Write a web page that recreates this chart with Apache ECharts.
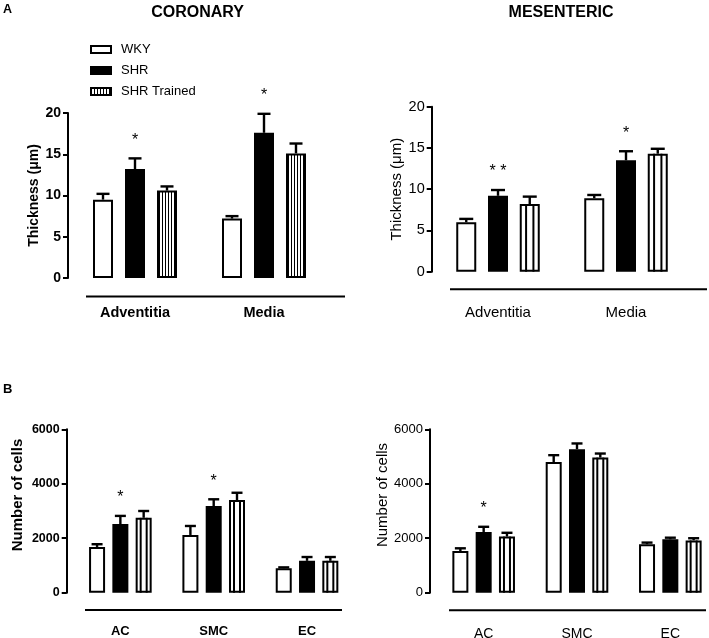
<!DOCTYPE html>
<html>
<head>
<meta charset="UTF-8">
<title>Coronary / Mesenteric</title>
<script src="https://cdn.jsdelivr.net/npm/echarts@6/dist/echarts.min.js"></script>
<style>
html, body { margin: 0; padding: 0; background: #fff; }
#main { width: 709px; height: 638px; }
</style>
</head>
<body>
<div id="main"></div>
<script type="text/javascript">
// categories and groups
var thickCats = ['Adventitia', 'Media'];
var cellCats = ['AC', 'SMC', 'EC'];
var groups = ['WKY', 'SHR', 'SHR Trained'];

// A - wall thickness (um): mean and SEM
var corThickWKY = [9.5, 7.2],   corThickWKYsem = [0.7, 0.3];
var corThickSHR = [13.2, 17.6], corThickSHRsem = [1.3, 2.3];
var corThickTr  = [10.6, 15.1], corThickTrsem  = [0.5, 1.2];
var corThickSig = ['*', '*'];

var mesThickWKY = [6.0, 8.9],   mesThickWKYsem = [0.4, 0.4];
var mesThickSHR = [9.2, 13.5],  mesThickSHRsem = [0.7, 1.1];
var mesThickTr  = [8.2, 14.3],  mesThickTrsem  = [0.9, 0.6];
var mesThickSig = ['* *', '*'];

// B - number of cells: mean and SEM
var corCellWKY = [1680, 2120, 900],  corCellWKYsem = [100, 330, 30];
var corCellSHR = [2520, 3180, 1170], corCellSHRsem = [300, 250, 140];
var corCellTr  = [2750, 3400, 1170], corCellTrsem  = [250, 270, 140];
var corCellSig = ['*', '*', ''];

var mesCellWKY = [1530, 4800, 1780], mesCellWKYsem = [100, 250, 60];
var mesCellSHR = [2230, 5270, 1960], mesCellSHRsem = [190, 210, 60];
var mesCellTr  = [2060, 4960, 1920], mesCellTrsem  = [140, 150, 80];
var mesCellSig = ['*', '', ''];

var FONT = '"Liberation Sans", Arial, sans-serif';

// dense vertical stripes for the coronary thickness "SHR Trained" bars and the legend
var pc = document.createElement('canvas');
pc.width = 3; pc.height = 6;
var pctx = pc.getContext('2d');
pctx.fillStyle = '#fff'; pctx.fillRect(0, 0, 3, 6);
pctx.fillStyle = '#000'; pctx.fillRect(0, 0, 1, 6);
var stripeFill = { image: pc, repeat: 'repeat' };

var panels = [
  { grid: { left: 70.5, top: 113, width: 258, height: 165 }, cats: thickCats, max: 20, interval: 5,
    means: [corThickWKY, corThickSHR, corThickTr], sems: [corThickWKYsem, corThickSHRsem, corThickTrsem], sig: corThickSig,
    barWidth: 20, step: 32, cap: 13, yOffset: 2.5, weight: 'bold', tickSize: 14,
    name: 'Thickness (\u03bcm)', nameSize: 14, nameGap: 27, namePad: 0, labelSize: 14.5, labelMargin: 27,
    dense: true, line: [86, 345, 296.5] },
  { grid: { left: 434, top: 106.7, width: 256, height: 165 }, cats: thickCats, max: 20, interval: 5,
    means: [mesThickWKY, mesThickSHR, mesThickTr], sems: [mesThickWKYsem, mesThickSHRsem, mesThickTrsem], sig: mesThickSig,
    barWidth: 20, step: 31.75, cap: 14, yOffset: 2.3, weight: 'normal', tickSize: 14.5,
    name: 'Thickness (\u03bcm)', nameSize: 15, nameGap: 26, namePad: 0, labelSize: 15, labelMargin: 34,
    dense: false, line: [450, 707, 289.3] },
  { grid: { left: 73.7, top: 429.3, width: 280, height: 163.4 }, cats: cellCats, max: 6000, interval: 2000,
    means: [corCellWKY, corCellSHR, corCellTr], sems: [corCellWKYsem, corCellSHRsem, corCellTrsem], sig: corCellSig,
    barWidth: 16, step: 23.3, cap: 11, yOffset: 7, weight: 'bold', tickSize: 12.5,
    name: 'Number of cells', nameSize: 15, nameGap: 41, namePad: 32, labelSize: 13, labelMargin: 32,
    dense: false, line: [85, 342, 610] },
  { grid: { left: 437, top: 429.3, width: 280, height: 163.4 }, cats: cellCats, max: 6000, interval: 2000,
    means: [mesCellWKY, mesCellSHR, mesCellTr], sems: [mesCellWKYsem, mesCellSHRsem, mesCellTrsem], sig: mesCellSig,
    barWidth: 16, step: 23.3, cap: 11, yOffset: 7, weight: 'normal', tickSize: 13,
    name: 'Number of cells', nameSize: 15, nameGap: 39, namePad: 32, labelSize: 14, labelMargin: 34,
    dense: false, line: [449, 706, 610.3] }
];

var grids = [], xAxes = [], yAxes = [], series = [];
var graphics = [
  { type: 'text', x: 197.5, y: 12.5, style: { text: 'CORONARY', font: 'bold 16px ' + FONT, align: 'center', verticalAlign: 'middle', fill: '#000' } },
  { type: 'text', x: 561, y: 12.5, style: { text: 'MESENTERIC', font: 'bold 16px ' + FONT, align: 'center', verticalAlign: 'middle', fill: '#000' } },
  { type: 'text', x: 3, y: 9.5, style: { text: 'A', font: 'bold 12.5px ' + FONT, verticalAlign: 'middle', fill: '#000' } },
  { type: 'text', x: 3, y: 389, style: { text: 'B', font: 'bold 13px ' + FONT, verticalAlign: 'middle', fill: '#000' } }
];

function errorBar(p, k, g) {
  var off = (g - 1) * p.step;
  var sig = g === 1 ? p.sig : null;
  return {
    type: 'custom', xAxisIndex: k, yAxisIndex: k, silent: true, z: 5,
    encode: { x: 0, y: [1, 2] },
    data: p.cats.map(function (c, i) { return [i, p.means[g][i], p.means[g][i] + p.sems[g][i]]; }),
    renderItem: function (params, api) {
      var base = api.coord([api.value(0), api.value(1)]);
      var top = api.coord([api.value(0), api.value(2)]);
      var x = base[0] + off;
      var kids = [
        { type: 'line', shape: { x1: x, y1: base[1], x2: x, y2: top[1] }, style: { stroke: '#000', lineWidth: 2.4 } },
        { type: 'line', shape: { x1: x - p.cap / 2, y1: top[1], x2: x + p.cap / 2, y2: top[1] }, style: { stroke: '#000', lineWidth: 2.4 } }
      ];
      if (sig && sig[params.dataIndex]) {
        kids.push({ type: 'text', style: { text: sig[params.dataIndex], x: x, y: top[1] - 18, align: 'center', verticalAlign: 'middle',
          font: '16px ' + FONT, fill: '#000' } });
      }
      return { type: 'group', children: kids };
    }
  };
}

function stripes(p, k) {
  var off = p.step;
  return {
    type: 'custom', xAxisIndex: k, yAxisIndex: k, silent: true, z: 4,
    encode: { x: 0, y: 1 },
    data: p.cats.map(function (c, i) { return [i, p.means[2][i]]; }),
    renderItem: function (params, api) {
      var top = api.coord([api.value(0), api.value(1)]);
      var bot = api.coord([api.value(0), 0]);
      var w = p.barWidth + 2;
      var x0 = top[0] + off - w / 2;
      var kids = [];
      for (var s = 1; s <= 2; s++) {
        var x = x0 + w * s / 3;
        kids.push({ type: 'line', shape: { x1: x, y1: top[1], x2: x, y2: bot[1] }, style: { stroke: '#000', lineWidth: 2 } });
      }
      return { type: 'group', children: kids };
    }
  };
}

panels.forEach(function (p, k) {
  p.grid.outerBoundsMode = 'none';
  p.grid.containLabel = false;
  grids.push(p.grid);
  xAxes.push({
    gridIndex: k, type: 'category', data: p.cats,
    axisLine: { show: false }, axisTick: { show: false },
    axisLabel: { margin: p.labelMargin, fontSize: p.labelSize, fontWeight: p.weight, color: '#000', fontFamily: FONT }
  });
  yAxes.push({
    gridIndex: k, type: 'value', min: 0, max: p.max, interval: p.interval, offset: p.yOffset,
    axisLine: { show: true, lineStyle: { color: '#000', width: 2 } },
    axisTick: { show: true, length: 5, lineStyle: { color: '#000', width: 2 } },
    splitLine: { show: false },
    axisLabel: { margin: 7, fontSize: p.tickSize, fontWeight: p.weight, color: '#000', fontFamily: FONT,
      formatter: function (v) { return String(v); } },
    name: p.name, nameLocation: 'middle', nameGap: p.nameGap,
    nameTextStyle: { fontSize: p.nameSize, fontWeight: p.weight, color: '#000', fontFamily: FONT, padding: [0, 0, 0, p.namePad] }
  });
  var fills = ['#fff', '#000', p.dense ? stripeFill : '#fff'];
  for (var g = 0; g < 3; g++) {
    series.push({
      type: 'bar', name: k === 0 ? groups[g] : groups[g] + ' ' + k,
      xAxisIndex: k, yAxisIndex: k, data: p.means[g], silent: true,
      barWidth: p.barWidth, barGap: ((p.step - p.barWidth) / p.barWidth * 100) + '%',
      itemStyle: { color: fills[g], borderColor: '#000', borderWidth: 2 }
    });
  }
  if (!p.dense) series.push(stripes(p, k));
  for (var g2 = 0; g2 < 3; g2++) series.push(errorBar(p, k, g2));
  graphics.push({ type: 'line', shape: { x1: p.line[0], y1: p.line[2], x2: p.line[1], y2: p.line[2] }, style: { stroke: '#000', lineWidth: 2 } });
});

var myChart = echarts.init(document.getElementById('main'));
var option = {
  animation: false,
  backgroundColor: '#fff',
  legend: {
    data: groups, orient: 'vertical', left: 85, top: 38, icon: 'rect',
    itemWidth: 20, itemHeight: 7, itemGap: 8, selectedMode: false,
    itemStyle: { borderColor: '#000', borderWidth: 2 },
    textStyle: { fontSize: 13, color: '#000', fontFamily: FONT, padding: [0, 0, 0, 5] }
  },
  grid: grids,
  xAxis: xAxes,
  yAxis: yAxes,
  series: series,
  graphic: graphics
};
myChart.setOption(option);
</script>
</body>
</html>
